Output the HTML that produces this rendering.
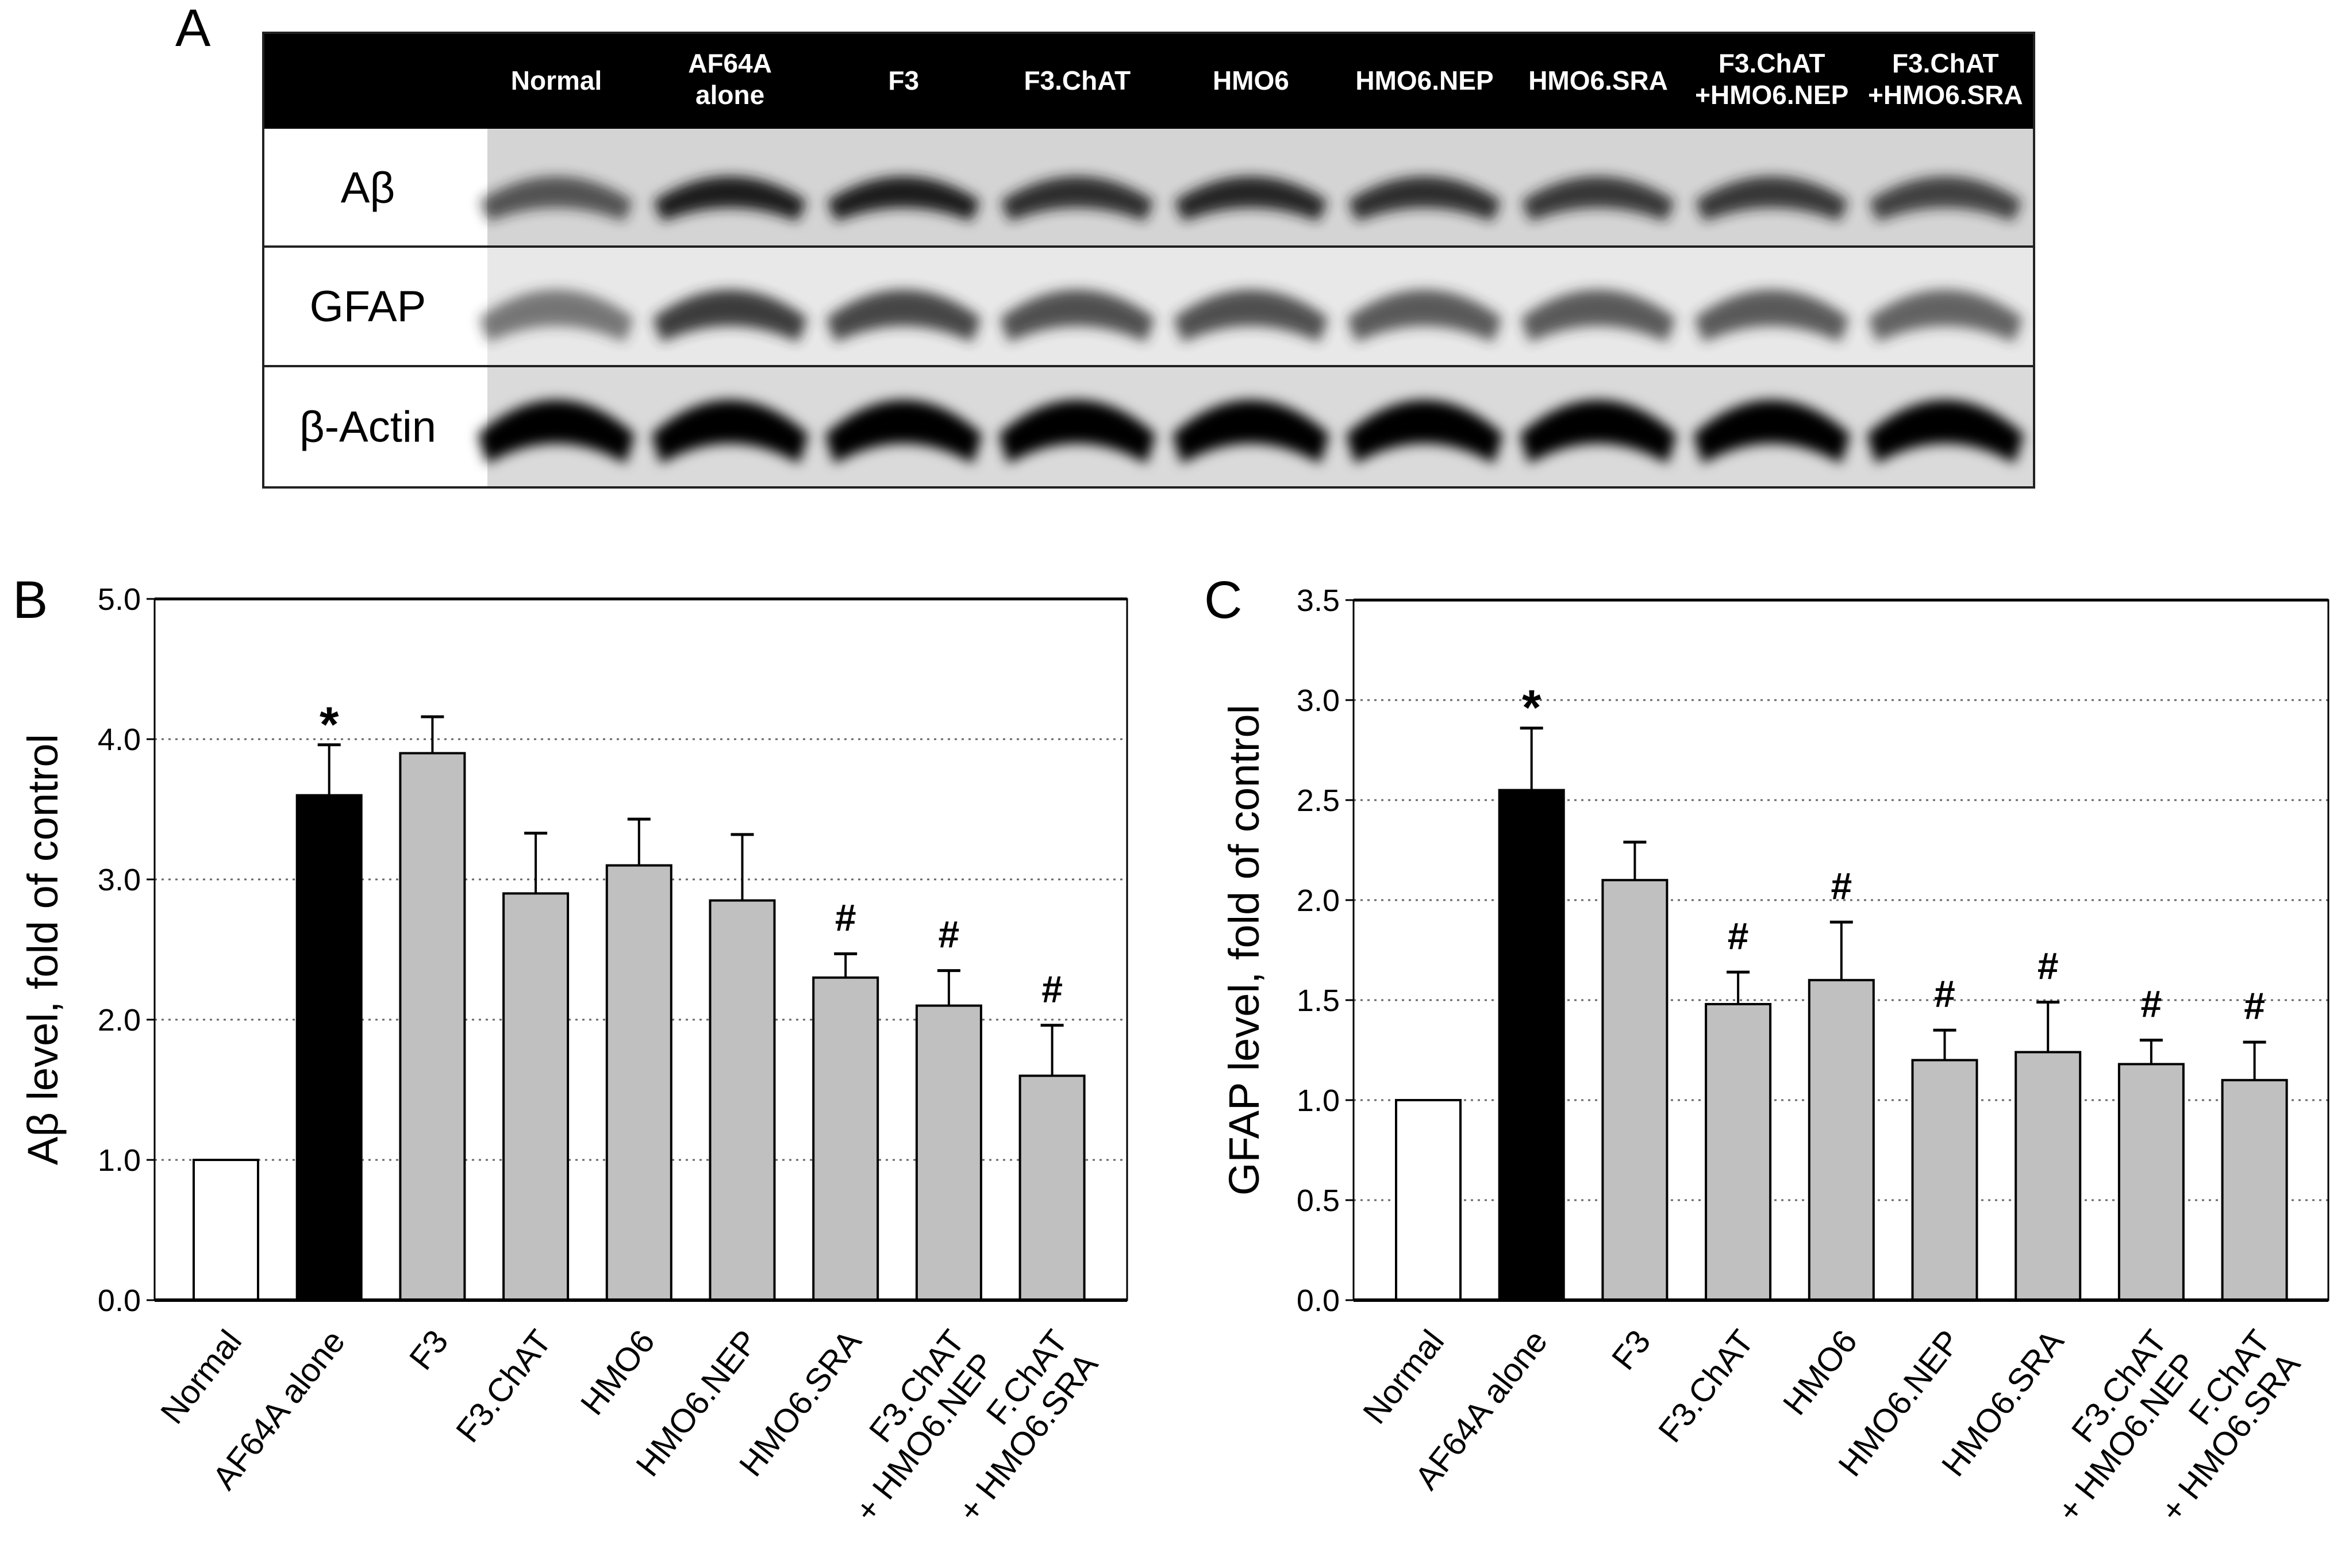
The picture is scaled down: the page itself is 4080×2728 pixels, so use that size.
<!DOCTYPE html>
<html><head><meta charset="utf-8"><style>
html,body{margin:0;padding:0;background:#fff}
svg{display:block;font-family:"Liberation Sans",Arial,sans-serif}
</style></head><body>
<svg id="fig" width="4080" height="2728" viewBox="0 0 4080 2728" xmlns="http://www.w3.org/2000/svg">
<defs>
<filter id="blur" x="-30%" y="-100%" width="160%" height="300%"><feGaussianBlur stdDeviation="11"/></filter>
</defs>
<text x="305" y="80" font-size="92">A</text>
<g id="blot"></g>
<text x="22" y="1075" font-size="92">B</text>
<text x="2095" y="1075" font-size="92">C</text>
<g id="chartB"></g>
<g id="chartC"></g>
</svg>
<script>
const NS="http://www.w3.org/2000/svg";
const categories=["Normal","AF64A alone","F3","F3.ChAT","HMO6","HMO6.NEP","HMO6.SRA","F3.ChAT|+ HMO6.NEP","F.ChAT|+ HMO6.SRA"];
const abetaValues=[1.0,3.6,3.9,2.9,3.1,2.85,2.3,2.1,1.6];
const abetaErrTop=[null,3.96,4.16,3.33,3.43,3.32,2.47,2.35,1.96];
const abetaMarks=["","*","","","","","#","#","#"];
const abetaTicks=["0.0","1.0","2.0","3.0","4.0","5.0"];
const gfapValues=[1.0,2.55,2.1,1.48,1.6,1.2,1.24,1.18,1.1];
const gfapErrTop=[null,2.86,2.29,1.64,1.89,1.35,1.49,1.3,1.29];
const gfapMarks=["","*","","#","#","#","#","#","#"];
const gfapTicks=["0.0","0.5","1.0","1.5","2.0","2.5","3.0","3.5"];
const blotLanes=["Normal","AF64A|alone","F3","F3.ChAT","HMO6","HMO6.NEP","HMO6.SRA","F3.ChAT|+HMO6.NEP","F3.ChAT|+HMO6.SRA"];
const abetaBand=[0.7,1,1,0.9,0.95,0.9,0.85,0.85,0.8];
const gfapBand=[0.6,0.9,0.85,0.8,0.8,0.75,0.75,0.75,0.7];
const actinBand=[1,1,1,1,1,1,1,1,1];

function el(tag,attrs,parent,text){const e=document.createElementNS(NS,tag);for(const k in attrs)e.setAttribute(k,attrs[k]);if(text!==undefined)e.textContent=text;parent.appendChild(e);return e;}

(function(){
  const g=document.getElementById('blot');
  const X0=458,X1=3539,Y0=57,HB=224,R1=429,R2=637,Y1=848,LC=848;
  let r=el('rect',{x:X0,y:Y0,width:X1-X0,height:HB-Y0,fill:'#000'},g);
  
  
  const rows=[[HB,R1,'#d4d4d4','Aβ',abetaBand,338,'#1a1a1a',26],[R1,R2,'#e8e8e8','GFAP',gfapBand,540,'#2a2a2a',30],[R2,Y1,'#dadada','β-Actin',actinBand,739,'#000',36]];
  rows.forEach((row)=>{
    el('rect',{x:LC,y:row[0],width:X1-LC,height:row[1]-row[0],fill:row[2]},g);
    const t=el('text',{x:640,y:(row[0]+row[1])/2+26,'font-size':76,'text-anchor':'middle'},g,row[3]);
    
    
    const lx0=968,step=302.1;
    row[4].forEach((v,i)=>{
      const cx=lx0+i*step;
      const b=el('path',{d:`M${cx-120},${row[5]+row[7]*0.6} Q${cx},${row[5]-row[7]*2.2} ${cx+120},${row[5]+row[7]*0.6} L${cx+112},${row[5]+row[7]*1.3} Q${cx},${row[5]-row[7]*0.3} ${cx-112},${row[5]+row[7]*1.3} Z`,fill:row[6],opacity:v,stroke:row[6],'stroke-width':row[7]*0.8,filter:'url(#blur)'},g);
      
      
    });
  });
  el('rect',{x:X0,y:Y0,width:X1-X0,height:Y1-Y0,fill:'none',stroke:'#222','stroke-width':4},g);
  el('line',{x1:X0,x2:X1,y1:R1,y2:R1,stroke:'#222','stroke-width':4},g);
  el('line',{x1:X0,x2:X1,y1:R2,y2:R2,stroke:'#222','stroke-width':4},g);
  blotLanes.forEach((lab,i)=>{
    const cx=968+i*302.1;const parts=lab.split('|');
    parts.forEach((p,j)=>{
      const y=parts.length==1?156:126+j*55;
      const t=el('text',{x:cx,y:y,'font-size':46,'font-weight':'bold',fill:'#fff','text-anchor':'middle'},g,p);
      
      
    });
  });
})();

function chart(gid,L,R,T,B,ymax,tickLabels,values,errs,marks,firstOff,title,titleX){
  const g=document.getElementById(gid);
  const y=v=>B-(v/ymax)*(B-T);
  const step=179.7,bw=112;
  const xc=i=>L+firstOff+i*step;
  tickLabels.forEach(tl=>{
    const v=parseFloat(tl);const yy=y(v);
    if(v>0&&v<ymax){const gl=el('line',{x1:L,x2:R,y1:yy,y2:yy,stroke:'#666','stroke-width':3,'stroke-dasharray':'4 8'},g);
      }
    el('line',{x1:L-14,x2:L,y1:yy,y2:yy,stroke:'#000','stroke-width':3},g);
    const t=el('text',{x:L-24,y:yy+19,'font-size':54,'text-anchor':'end'},g,tl);
    
  });
  values.forEach((v,i)=>{
    const cx=xc(i);
    if(errs[i]!==null){
      el('line',{x1:cx,x2:cx,y1:y(v),y2:y(errs[i]),stroke:'#000','stroke-width':4},g);
      el('line',{x1:cx-20,x2:cx+20,y1:y(errs[i]),y2:y(errs[i]),stroke:'#000','stroke-width':5},g);
    }
    const b=el('rect',{x:cx-bw/2,y:y(v),width:bw,height:B-y(v),fill:i==0?'#fff':(i==1?'#000':'#c0c0c0'),stroke:'#000','stroke-width':4},g);
    
    if(marks[i]){const top=errs[i]!==null?y(errs[i]):y(v);
      const isStar=marks[i]=='*';
      const m=el('text',{x:cx,y:isStar?top-6:top-40,'font-size':isStar?86:66,'font-weight':'bold','text-anchor':'middle'},g,marks[i]);
      }
    const parts=categories[i].split('|');
    parts.forEach((p,j)=>{
      const ax=cx+30+j*52, ay=B+72+j*40;
      const t=el('text',{x:ax,y:ay,'font-size':58,'text-anchor':'end',transform:`rotate(-52 ${ax} ${ay})`},g,p);
      
    });
  });
  el('rect',{x:L,y:T,width:R-L,height:B-T,fill:'none',stroke:'#000','stroke-width':3},g);
  el('line',{x1:L,x2:R,y1:T,y2:T,stroke:'#000','stroke-width':5},g);
  el('line',{x1:L,x2:R,y1:B,y2:B,stroke:'#000','stroke-width':6},g);
  const ty=(T+B)/2;
  const t=el('text',{x:titleX,y:ty,'font-size':74,'text-anchor':'middle',transform:`rotate(-90 ${titleX} ${ty})`},g,title);
  
}
chart('chartB',269,1961,1042,2262,5,abetaTicks,abetaValues,abetaErrTop,abetaMarks,124,'Aβ level, fold of control',100);
chart('chartC',2355,4051,1044,2262,3.5,gfapTicks,gfapValues,gfapErrTop,gfapMarks,130,'GFAP level, fold of control',2190);
</script>
</body></html>
